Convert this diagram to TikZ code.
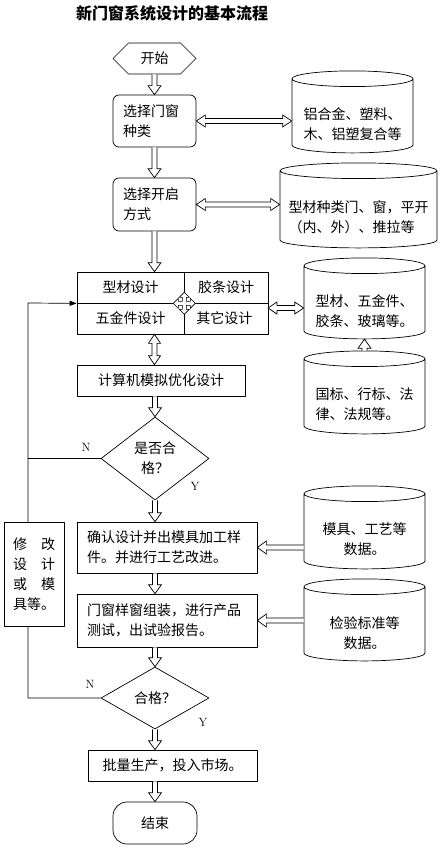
\documentclass[tikz,border=0pt]{standalone}
\usepackage{fontspec}
\newfontfamily\cjk{Noto Sans CJK SC}
\usetikzlibrary{calc,arrows.meta,shapes.geometric,shapes.symbols}

\tikzset{
	base/.style={font=\cjk\fontsize{14}{20}\selectfont, inner sep=0pt},
	proc/.style={base, draw, fill=white, align=left},
	cell/.style={base, draw, align=center, minimum height=31pt},
	store/.style={draw, cylinder, shape border rotate=90, aspect=0.16, inner sep=0pt},
	judge/.style={base, draw, diamond, aspect=1.3, align=center},
	hollow/.style={draw, fill=white, line join=miter},
	% 空心箭头：单头 / 双头
	onehead/.style={to path={
		($(\tikztostart)!2.5pt!90:(\tikztotarget)$)
		-- ($(\tikztotarget)!9pt!(\tikztostart)!2.5pt!90:(\tikztotarget)$)
		-- ($(\tikztotarget)!9pt!(\tikztostart)!6.5pt!90:(\tikztotarget)$)
		-- (\tikztotarget)
		-- ($(\tikztotarget)!9pt!(\tikztostart)!6.5pt!-90:(\tikztotarget)$)
		-- ($(\tikztotarget)!9pt!(\tikztostart)!2.5pt!-90:(\tikztotarget)$)
		-- ($(\tikztostart)!2.5pt!-90:(\tikztotarget)$)}},
	twohead/.style={to path={
		(\tikztostart)
		-- ($(\tikztostart)!9pt!(\tikztotarget)!6pt!90:(\tikztotarget)$)
		-- ($(\tikztostart)!9pt!(\tikztotarget)!2.5pt!90:(\tikztotarget)$)
		-- ($(\tikztotarget)!9pt!(\tikztostart)!2.5pt!90:(\tikztotarget)$)
		-- ($(\tikztotarget)!9pt!(\tikztostart)!6pt!90:(\tikztotarget)$)
		-- (\tikztotarget)
		-- ($(\tikztotarget)!9pt!(\tikztostart)!6pt!-90:(\tikztotarget)$)
		-- ($(\tikztotarget)!9pt!(\tikztostart)!2.5pt!-90:(\tikztotarget)$)
		-- ($(\tikztostart)!9pt!(\tikztotarget)!2.5pt!-90:(\tikztotarget)$)
		-- ($(\tikztostart)!9pt!(\tikztotarget)!6pt!-90:(\tikztotarget)$)
		-- cycle}}
}

\begin{document}
\begin{tikzpicture}[x=1pt, y=-1pt, line width=0.7pt, line join=round]
	\path[use as bounding box, fill=white] (0,0) rectangle (439,848);
	
	% 标题
	\node (title) [font=\cjk\bfseries\fontsize{16}{20}\selectfont] at (172,13) {新门窗系统设计的基本流程};
	
	% 主流程
	\node (start) [base, draw, signal, signal to=east and west, signal pointer angle=90,
		minimum width=83pt, minimum height=31pt] at (154.5,58.5) {开始};
	\node (kind) [proc, rounded corners=6pt, text width=63pt, minimum width=83pt,
		minimum height=52pt] at (154.5,121) {选择门窗\\种类};
	\node (open) [proc, rounded corners=6pt, text width=63pt, minimum width=83pt,
		minimum height=53pt] at (154.5,204.5) {选择开启\\方式};
	\foreach \name/\x/\y/\w/\txt in {
		tl/130.5/287.5/107/型材设计, tr/226/287.5/84/胶条设计,
		bl/130.5/318.5/107/五金件设计, br/226/318.5/84/其它设计
	}{
		\node (\name) [cell, minimum width=\w pt] at (\x,\y) {\txt};
	}
	\node (sim) [proc, minimum width=168pt, minimum height=31pt] at (161,380.5) {计算机模拟优化设计};
	\node (dia1) [judge, minimum width=108pt, minimum height=83pt] at (155,458.5) {是否合\\格？};
	\node (conf) [proc, text width=160pt, minimum width=180pt, minimum height=51pt]
		at (167,547.5) {确认设计并出模具加工样\\件。并进行工艺改进。};
	\node (test) [proc, text width=160pt, minimum width=180pt, minimum height=53pt]
		at (167,620.5) {门窗样窗组装，进行产品\\测试，出试验报告。};
	\node (dia2) [judge, minimum width=108pt, minimum height=62pt] at (155,698) {合格？};
	\node (mass) [proc, minimum width=169pt, minimum height=31pt] at (172.5,765.5) {批量生产，投入市场。};
	\node (finish) [base, draw, rounded corners=14pt, minimum width=84pt,
		minimum height=42pt] at (155,823) {结束};
	
	% 资料库
	\foreach \name/\x/\y/\w/\h in {
		c1/352.5/116/121/82, c2/358.5/209.5/157/85, c3/364.5/302.5/121/81,
		c4/364.5/396.5/121/83, c5/364.5/531.5/121/83, c6/364.5/624/121/82
	}{
		\node (\name) [store, minimum width=\w pt, minimum height=\h pt] at (\x,\y) {\rule{98pt}{0pt}};
	}
	\node (c1t) [base, text width=98pt, align=left, yshift=-8pt] at (c1) {铝合金、塑料、\\木、铝塑复合等};
	\node (c2t) [base, text width=140pt, align=left, yshift=-8pt] at (c2) {型材种类门、窗，平开\\（内、外）、推拉等};
	\node (c3t) [base, text width=98pt, align=left, yshift=-9pt] at (c3) {型材、五金件、\\胶条、玻璃等。};
	\node (c4t) [base, text width=98pt, align=left, yshift=-8pt] at (c4) {国标、行标、法\\律、法规等。};
	\node (c5t) [base, align=center, yshift=-8pt] at (c5) {模具、工艺等\\数据。};
	\node (c6t) [base, align=center, yshift=-9pt] at (c6) {检验标准等\\数据。};
	
	\foreach \name/\x/\y/\t in {n1/86/447/N, y1/195/486/Y, n2/90/684/N, y2/203/722/Y}{
		\node (\name) [font=\fontsize{12}{14}\selectfont] at (\x,\y) {\t};
	}
	
	% 空心箭头
	\draw[hollow] (start.south) to[onehead] (kind.north);
	\draw[hollow] (kind.south) to[onehead] (open.north);
	\draw[hollow] (open.south) to[onehead] (open.south |- tl.north);
	\draw[hollow] (open.south |- bl.south) to[twohead] (open.south |- sim.north);
	\draw[hollow] (dia1.north |- sim.south) to[onehead] (dia1.north);
	\draw[hollow] (dia1.south) to[onehead] (dia1.south |- conf.north);
	\draw[hollow] (dia1.south |- conf.south) to[onehead] (dia1.south |- test.north);
	\draw[hollow] (dia2.north |- test.south) to[onehead] (dia2.north);
	\draw[hollow] (dia2.south) to[onehead] (dia2.south |- mass.north);
	\draw[hollow] (dia2.south |- mass.south) to[onehead] (finish.north);
	
	\coordinate (port) at (268,308);
	\draw[hollow] (kind.east) to[twohead] (kind.east -| c1.west);
	\draw[hollow] (open.east) to[twohead] (open.east -| c2.west);
	\draw[hollow] (port) to[twohead] (port -| c3.west);
	\draw[hollow] (c4.north) to[onehead] (c3.south);
	\draw[hollow] (conf.east -| c5.west) to[onehead] (conf.east);
	\draw[hollow] (test.east -| c6.west) to[onehead] (test.east);
	
	% 十字箭头
	\coordinate (hub) at (tl.south east);
	\draw[hollow, shift={(hub)}] (11,0) -- (6,-5) -- (6,-2) -- (2,-2) -- (2,-6) -- (5,-6)
		-- (0,-11) -- (-5,-6) -- (-2,-6) -- (-2,-2) -- (-6,-2) -- (-6,-5) -- (-11,0)
		-- (-6,5) -- (-6,2) -- (-2,2) -- (-2,6) -- (-5,6) -- (0,11) -- (5,6) -- (2,6)
		-- (2,2) -- (6,2) -- (6,5) -- cycle;
	
	% 返回线
	\coordinate (rail) at (28,303);
	\draw[-{Triangle[length=7pt,width=5pt]}] (dia2.west) -| (rail) -- (tl.south west);
	\draw (dia1.west) -- (dia1.west -| rail);
	\node (revise) [proc, text width=42pt, minimum width=60pt, minimum height=104pt]
		at (34,574) {修\hfill 改\\设\hfill 计\\或\hfill 模\\具等。};
\end{tikzpicture}
\end{document}
